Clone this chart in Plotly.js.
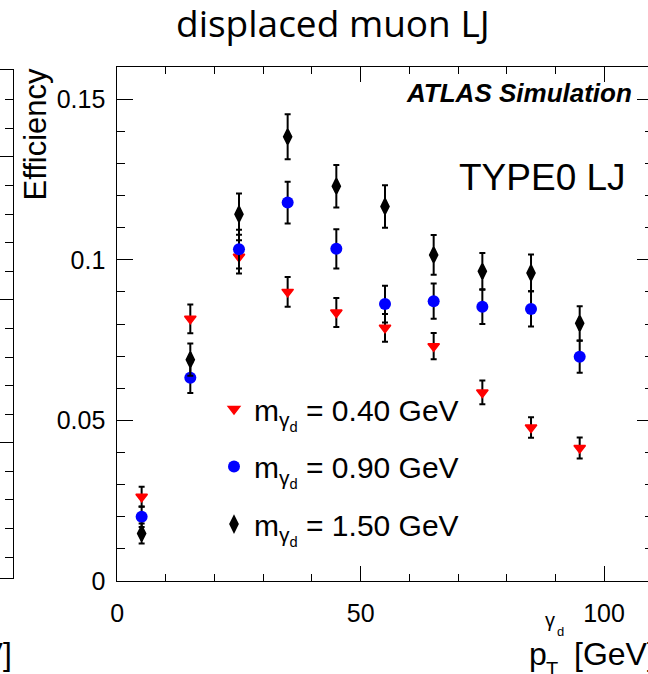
<!DOCTYPE html>
<html>
<head>
<meta charset="utf-8">
<script src="https://cdn.plot.ly/plotly-3.0.1.min.js"></script>
<style>
html, body { margin: 0; padding: 0; overflow: hidden; background: #fff; }
#plot { width: 660px; height: 674px; }
</style>
</head>
<body>
<div id="plot"></div>
<script>
// ---- data ----
const ptBins = [5, 15, 25, 35, 45, 55, 65, 75, 85, 95];

const eff040 = [0.0262, 0.0816, 0.1009, 0.0900, 0.0836, 0.0788, 0.0731, 0.0587, 0.0478, 0.0414];
const err040 = [0.0031, 0.0045, 0.0052, 0.0046, 0.0045, 0.0043, 0.0041, 0.0037, 0.0032, 0.0033];

const eff090 = [0.0200, 0.0633, 0.1033, 0.1178, 0.1034, 0.0862, 0.0871, 0.0854, 0.0847, 0.0698];
const err090 = [0.0032, 0.0048, 0.0060, 0.0065, 0.0061, 0.0057, 0.0055, 0.0054, 0.0055, 0.0050];

const eff150 = [0.0148, 0.0689, 0.1142, 0.1383, 0.1229, 0.1166, 0.1015, 0.0964, 0.0959, 0.0802];
const err150 = [0.0031, 0.0050, 0.0064, 0.0070, 0.0066, 0.0066, 0.0062, 0.0057, 0.0057, 0.0053];

const seriesNames = [
  'm<sub>γ<sub>d</sub></sub> = 0.40 GeV',
  'm<sub>γ<sub>d</sub></sub> = 0.90 GeV',
  'm<sub>γ<sub>d</sub></sub> = 1.50 GeV'
];

const xTickVals = [0, 50, 100];
const xTickText = ['0', '50', '100'];
const yTickVals = [0, 0.05, 0.1, 0.15];
const yTickText = ['0', '0.05', '0.1', '0.15'];

const xRange = [0, 110];
const yRange = [0, 0.16];

// ---- geometry (pixels) ----
const W = 660, H = 674;
const L = 117.3, R = 652.7, T = 66.7, B = 581;
const px = v => v / W;
const py = v => (B - v) / (B - T);

const FONT = '"Liberation Sans", Arial, Helvetica, sans-serif';

function errBar(arr) {
  return { type: 'data', array: arr, visible: true, color: '#000', thickness: 2, width: 3 };
}

const traces = [
  {
    x: ptBins, y: eff040, error_y: errBar(err040), type: 'scatter', mode: 'markers',
    name: seriesNames[0], legendgroup: 'a',
    marker: { symbol: 'triangle-down', size: 10, color: '#ff0000', line: { width: 1.5, color: '#ff0000' } }
  },
  {
    x: ptBins, y: eff090, error_y: errBar(err090), type: 'scatter', mode: 'markers',
    name: seriesNames[1], legendgroup: 'b',
    marker: { symbol: 'circle', size: 12, color: '#0000ff', line: { width: 0 } }
  },
  {
    x: ptBins, y: eff150, error_y: errBar(err150), type: 'scatter', mode: 'markers',
    name: seriesNames[2], legendgroup: 'c',
    marker: { symbol: 'diamond-tall', size: 10, color: '#000000', line: { width: 2.5, color: '#000000' } }
  }
];

const annotations = [
  { text: 'displaced muon LJ', x: px(333), y: py(22), xanchor: 'center', yanchor: 'middle',
    font: { family: '"Open Sans", sans-serif', size: 37, color: '#000' } },
  { text: '<b><i>ATLAS Simulation</i></b>', x: px(633), y: py(93), xanchor: 'right', yanchor: 'middle',
    font: { family: FONT, size: 26, color: '#000' } },
  { text: 'TYPE0 LJ', x: px(627.3), y: py(177.7), xanchor: 'right', yanchor: 'middle',
    font: { family: FONT, size: 37, color: '#000' } },
  { text: 'Efficiency', textangle: -90, x: px(35), y: py(66.7), xanchor: 'center', yanchor: 'top',
    font: { family: FONT, size: 31, color: '#000' } },
  // x-axis title pieces: p_T^{γ_d} [GeV]
  { text: 'p', x: px(528), y: py(665 - 0.35 * 32), xanchor: 'left', yanchor: 'middle',
    font: { family: FONT, size: 32, color: '#000' } },
  { text: 'T', x: px(545), y: py(676 - 0.35 * 20), xanchor: 'left', yanchor: 'middle',
    font: { family: FONT, size: 20, color: '#000' } },
  { text: 'γ', x: px(544), y: py(627 - 0.35 * 20), xanchor: 'left', yanchor: 'middle',
    font: { family: FONT, size: 20, color: '#000' } },
  { text: 'd', x: px(556), y: py(636 - 0.35 * 13), xanchor: 'left', yanchor: 'middle',
    font: { family: FONT, size: 13, color: '#000' } },
  { text: '[GeV]', x: px(657), y: py(665 - 0.35 * 32), xanchor: 'right', yanchor: 'middle',
    font: { family: FONT, size: 32, color: '#000' } },
  // neighbouring panel's axis title (cut off)
  { text: '[GeV]', x: px(12.6), y: py(665 - 0.35 * 32), xanchor: 'right', yanchor: 'middle',
    font: { family: FONT, size: 32, color: '#000' } }
];
annotations.forEach(a => { a.xref = 'paper'; a.yref = 'paper'; a.showarrow = false; a.borderpad = 0; });

const layout = {
  width: W, height: H,
  margin: { l: 0, r: 0, t: T, b: H - B, pad: 0 },
  paper_bgcolor: '#fff', plot_bgcolor: '#fff',
  showlegend: true,
  legend: {
    x: px(214), y: py(383), xanchor: 'left', yanchor: 'top',
    bgcolor: 'rgba(0,0,0,0)', borderwidth: 0,
    font: { family: FONT, size: 30, color: '#000' },
    tracegroupgap: 15.5
  },
  xaxis: {
    domain: [px(L), px(R)], anchor: 'y', range: xRange,
    tickmode: 'array', tickvals: xTickVals, ticktext: xTickText,
    ticks: 'inside', ticklen: 15, tickwidth: 1, tickcolor: '#000',
    minor: { tickmode: 'linear', tick0: 0, dtick: 10, ticks: 'inside', ticklen: 7, tickwidth: 1, tickcolor: '#000', showgrid: false },
    showline: true, linecolor: '#000', linewidth: 1, mirror: 'allticks',
    showgrid: false, zeroline: false,
    tickfont: { family: FONT, size: 25, color: '#000' },
    ticklabelstandoff: 10
  },
  yaxis: {
    domain: [0, 1], anchor: 'x', range: yRange,
    tickmode: 'array', tickvals: yTickVals, ticktext: yTickText,
    ticks: 'inside', ticklen: 16, tickwidth: 1, tickcolor: '#000',
    minor: { tickmode: 'linear', tick0: 0, dtick: 0.01, ticks: 'inside', ticklen: 8, tickwidth: 1, tickcolor: '#000', showgrid: false },
    showline: true, linecolor: '#000', linewidth: 1, mirror: 'allticks',
    showgrid: false, zeroline: false,
    tickfont: { family: FONT, size: 25, color: '#000' },
    ticklabelstandoff: 6
  },
  // neighbouring (cut-off) panel on the left edge
  xaxis2: {
    domain: [0, px(12.6)], anchor: 'y2', range: [0, 1],
    showline: true, linecolor: '#000', linewidth: 1, mirror: true,
    ticks: '', showticklabels: false, showgrid: false, zeroline: false, fixedrange: true
  },
  yaxis2: {
    domain: [py(578), py(70)], anchor: 'x2', side: 'right', range: [0.27, 18.03],
    tickmode: 'linear', tick0: 0, dtick: 5,
    ticks: 'inside', ticklen: 16, tickwidth: 1, tickcolor: '#000',
    minor: { tickmode: 'linear', tick0: 0, dtick: 1, ticks: 'inside', ticklen: 8, tickwidth: 1, tickcolor: '#000', showgrid: false },
    showline: true, linecolor: '#000', linewidth: 1,
    showticklabels: false, showgrid: false, zeroline: false, fixedrange: true
  },
  annotations: annotations
};

// invisible trace to activate the neighbouring axes
traces.push({ x: [0.5], y: [1], xaxis: 'x2', yaxis: 'y2', type: 'scatter', mode: 'markers',
  marker: { opacity: 0 }, showlegend: false, hoverinfo: 'skip' });

Plotly.newPlot('plot', traces, layout, { staticPlot: true, displayModeBar: false });
</script>
</body>
</html>
